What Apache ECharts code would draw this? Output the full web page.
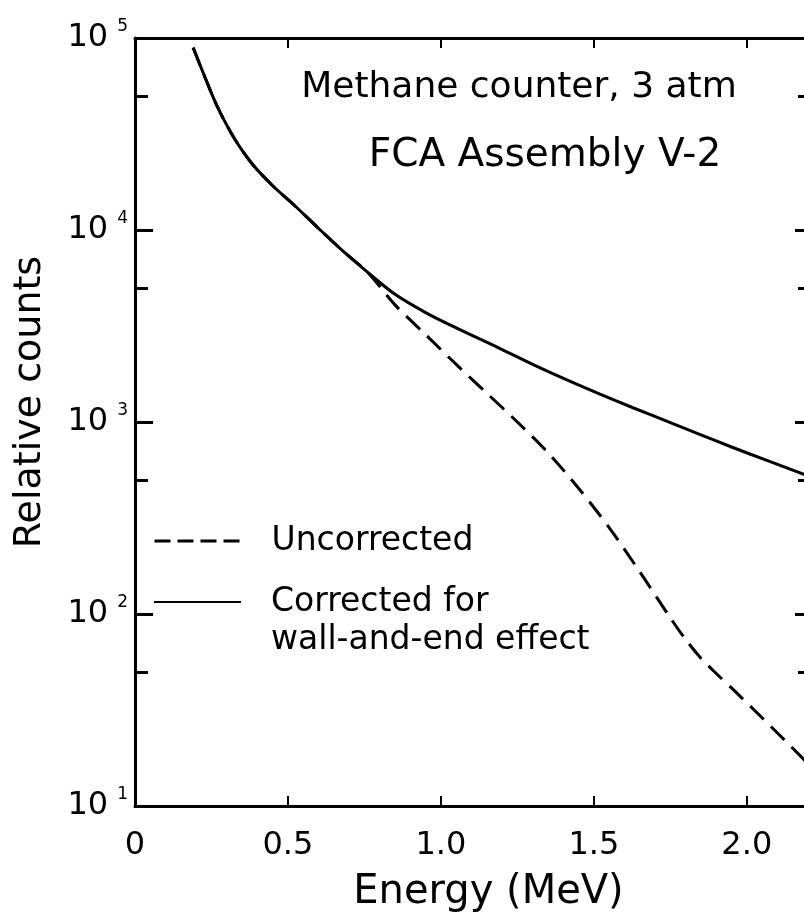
<!DOCTYPE html>
<html>
<head>
<meta charset="utf-8">
<script src="https://cdn.jsdelivr.net/npm/echarts@6/dist/echarts.min.js"></script>
<style>
  html, body { margin: 0; padding: 0; background: #fff; }
  #chart { width: 804px; height: 913px; }
</style>
</head>
<body>
<div id="chart"></div>
<script>
// Energy spectrum of a methane proportional counter (FCA Assembly V-2)

// Low-energy part where both curves coincide (MeV, relative counts)
const energyShared = [0.19, 0.23, 0.27, 0.32, 0.38, 0.45, 0.52, 0.60, 0.68, 0.76];
const countsShared = [89100, 61700, 43600, 30900, 22400, 17000, 13500, 10200, 7760, 6030];

// Uncorrected spectrum above the split
const energyUncorr = [0.85, 0.95, 1.05, 1.15, 1.25, 1.35, 1.45, 1.55, 1.65, 1.75, 1.80, 1.85, 1.90, 1.95, 2.05, 2.15, 2.20];
const countsUncorr = [4074, 2851, 1995, 1413, 1000, 692, 452, 282, 166, 95.5, 73.6, 58.9, 49.0, 41.2, 28.8, 20.0, 16.6];

// Spectrum corrected for wall-and-end effect above the split
const energyCorr = [0.85, 0.95, 1.05, 1.19, 1.30, 1.41, 1.52, 1.63, 1.74, 1.85, 1.95, 2.07, 2.19];
const countsCorr = [4624, 3715, 3090, 2427, 1995, 1660, 1396, 1183, 1007, 857, 741, 627, 531];

// Axis ticks
const xTickValues = [0, 0.5, 1.0, 1.5, 2.0];
const xTickLabels = ['0', '0.5', '1.0', '1.5', '2.0'];
const yDecadeTicks = [10, 100, 1000, 10000, 100000];
const yHalfTicks = [50, 500, 5000, 50000];

const FONT = 'DejaVu Sans';
const INK = '#000';

function pairs(xs, ys) {
  return xs.map((x, i) => [x, ys[i]]);
}
const uncorrData = pairs(energyShared.concat(energyUncorr), countsShared.concat(countsUncorr));
const corrData = pairs(energyShared.concat(energyCorr), countsShared.concat(countsCorr));

const chart = echarts.init(document.getElementById('chart'), null, { renderer: 'canvas' });

const xBase = { type: 'value', min: 0, max: 2.2, gridIndex: 0, splitLine: { show: false } };
const yBase = { type: 'log', logBase: 10, min: 10, max: 100000, gridIndex: 0, splitLine: { show: false } };

const legendCommon = {
  orient: 'vertical',
  left: 148,
  itemWidth: 87, itemHeight: 20,
  selectedMode: false,
  itemStyle: { opacity: 0 },
  textStyle: { fontFamily: FONT, fontSize: 33, color: INK, lineHeight: 38, padding: [0, 0, 0, 25] }
};

const option = {
  backgroundColor: '#fff',
  animation: false,
  grid: { left: 135, top: 38, right: -4, bottom: 107, containLabel: false, outerBoundsMode: 'none' },
  xAxis: [
    Object.assign({}, xBase, {
      position: 'bottom',
      name: 'Energy (MeV)',
      nameLocation: 'middle',
      nameGap: 67,
      nameTextStyle: { fontFamily: FONT, fontSize: 40, color: INK, padding: [0, 0, 0, 34] },
      axisLine: { lineStyle: { color: INK, width: 3 } },
      axisTick: { inside: true, length: 10, customValues: xTickValues, lineStyle: { color: INK, width: 2 } },
      axisLabel: {
        customValues: xTickValues,
        margin: 24,
        fontFamily: FONT, fontSize: 32, color: INK,
        formatter: v => xTickLabels[xTickValues.indexOf(v)] ?? ''
      }
    }),
    Object.assign({}, xBase, {
      position: 'top',
      axisLine: { lineStyle: { color: INK, width: 3 } },
      axisTick: { inside: true, length: 10, customValues: xTickValues, lineStyle: { color: INK, width: 2 } },
      axisLabel: { show: false }
    })
  ],
  yAxis: [
    Object.assign({}, yBase, {
      position: 'left',
      name: 'Relative counts',
      nameLocation: 'middle',
      nameGap: 86,
      nameRotate: 90,
      nameTextStyle: { fontFamily: FONT, fontSize: 38, color: INK, padding: [0, 0, 0, 40] },
      axisLine: { lineStyle: { color: INK, width: 3 } },
      axisTick: { inside: true, length: 18, customValues: yDecadeTicks, lineStyle: { color: INK, width: 3 } },
      axisLabel: {
        customValues: yDecadeTicks,
        margin: 7,
        formatter: v => '{b|10}{s|' + Math.round(Math.log10(v)) + '}',
        rich: {
          b: { fontFamily: FONT, fontSize: 32, color: INK, lineHeight: 40 },
          s: { fontFamily: FONT, fontSize: 17, color: INK, lineHeight: 16, verticalAlign: 'top', padding: [0, 0, 0, 9] }
        }
      }
    }),
    Object.assign({}, yBase, {
      position: 'left',
      axisLine: { show: false },
      axisTick: { inside: true, length: 13, customValues: yHalfTicks, lineStyle: { color: INK, width: 3 } },
      axisLabel: { show: false }
    }),
    Object.assign({}, yBase, {
      position: 'right',
      axisLine: { show: true, lineStyle: { color: INK, width: 3 } },
      axisTick: { inside: true, length: 13, customValues: yDecadeTicks, lineStyle: { color: INK, width: 3 } },
      axisLabel: { show: false }
    }),
    Object.assign({}, yBase, {
      position: 'right',
      axisLine: { show: false },
      axisTick: { inside: true, length: 10, customValues: yHalfTicks, lineStyle: { color: INK, width: 3 } },
      axisLabel: { show: false }
    })
  ],
  legend: [
    Object.assign({}, legendCommon, {
      top: 517,
      data: [{ name: 'Uncorrected', lineStyle: { type: [16, 7], width: 3 } }]
    }),
    Object.assign({}, legendCommon, {
      top: 540,
      data: ['Corrected for wall-and-end effect'],
      // blank first line keeps the sample line level with "Corrected for"
      formatter: () => '\nCorrected for\nwall-and-end effect'
    })
  ],
  graphic: [
    {
      type: 'text', x: 519, y: 88,
      style: {
        text: 'Methane counter, 3 atm', fontFamily: FONT, fontSize: 36, fill: INK,
        textAlign: 'center', textVerticalAlign: 'middle'
      }
    },
    {
      type: 'text', x: 545, y: 156,
      style: {
        text: 'FCA Assembly V-2', fontFamily: FONT, fontSize: 39, fill: INK,
        textAlign: 'center', textVerticalAlign: 'middle'
      }
    }
  ],
  series: [
    {
      name: 'Uncorrected',
      type: 'line',
      xAxisIndex: 0, yAxisIndex: 0,
      data: uncorrData,
      symbol: 'none',
      smooth: 0.3,
      lineStyle: { color: INK, width: 3, type: [19, 10] },
      itemStyle: { color: INK },
      z: 3
    },
    {
      name: 'Corrected for wall-and-end effect',
      type: 'line',
      xAxisIndex: 0, yAxisIndex: 0,
      data: corrData,
      symbol: 'none',
      smooth: 0.3,
      lineStyle: { color: INK, width: 3 },
      itemStyle: { color: INK },
      z: 2
    }
  ]
};

chart.setOption(option);
</script>
</body>
</html>
